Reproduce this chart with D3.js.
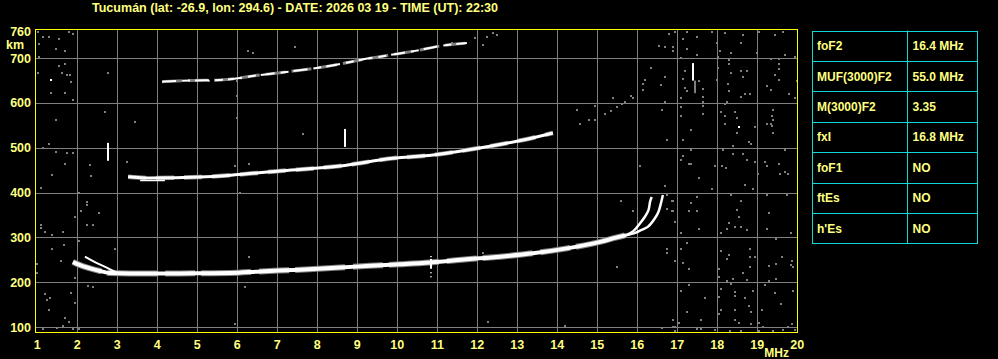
<!DOCTYPE html>
<html><head><meta charset="utf-8">
<script src="https://cdn.jsdelivr.net/npm/d3@7"></script>
<style>
body{margin:0;background:#000;overflow:hidden}
svg{display:block}
text{font-family:"Liberation Sans",Arial,sans-serif;font-weight:bold}
</style></head><body>
<script>
// ---------- DATA ----------
const titleText = "Tucumán (lat: -26.9, lon: 294.6) - DATE: 2026 03 19 - TIME (UT): 22:30";
const freqTicks = d3.range(1, 21);            // MHz
const heightTicks = [100,200,300,400,500,600,700,760]; // km
const heightGrid = [100,200,300,400,500,600,700];

// first-hop F trace (common part)  [MHz, km]
const traceF1o = [[1.89,245],[2.07,238],[2.32,231],[2.57,225],[2.82,220.5],[3.32,219.5],[3.82,219.5],[4.57,219.5],[5.07,220],[5.82,220.5],[6.57,224],[7.57,228],[8.57,233],[9.32,236.5],[10.07,240],[10.82,244],[11.74,251],[12.57,257],[13.39,264.5],[14.24,275.5],[15.07,290],[15.49,300],[15.72,305]];
const branchO = [[15.72,305],[15.9,314],[16.07,331.5],[16.19,346],[16.28,361],[16.32,380],[16.36,390]];
const branchX = [[15.72,305],[15.95,310],[16.07,315],[16.27,324],[16.44,342.6],[16.53,357.4],[16.59,376],[16.64,394.6]];
const lowX = [[2.19,257],[2.44,245],[2.77,231],[2.95,223]];
// second hop
const trace2F = [[3.27,435.5],[3.82,432.6],[5.07,434.8],[5.89,439.3],[7.14,448.9],[8.57,459.4],[9.89,476.6],[10.89,484],[11.74,495],[12.49,506.3],[13.32,520.8],[13.89,533]];
const trace2Flow = [[3.57,427],[4.19,427]];
// third hop
const trace3F = [[4.12,647.5],[4.82,650.2],[5.57,651.3],[6.57,662.5],[7.07,667.6],[8.44,684.8],[9.07,696],[9.82,707.1],[10.57,718.3],[11.07,727.2],[11.74,733.9]];
// vertical echo bars [MHz, km from, km to]
const whiteBars = [[2.78,471,511],[8.69,502,542],[10.84,230,252],[10.84,256,258],[10.84,220,222],[10.84,211,213],[17.4,650,689]];
const grayBars = [[17.45,622,650]];
// isolated white echoes
const whiteDots = [[1.34,651],[18.54,547]];
// scattered noise echoes [MHz, km]
const noiseDots = [
[16.79,755],[16.94,758],[17.24,758],[17.48,747],[17.88,758],[18.19,757],[18.63,752],[19.03,758],[19.44,751],[19.65,758],
[16.69,725],[16.90,725],[16.90,717],[17.13,743],[17.24,721],[17.98,734],[18.08,717],[18.34,712],[18.59,734],[18.98,712],[19.69,708],
[17.09,700],[17.48,708],[18.02,703],[18.29,697],[18.29,688],[19.34,698],[19.54,698],[19.54,688],[19.94,703],
[18.02,678],[18.34,667],[18.59,671],[18.74,672],[19.54,676],[17.19,671],[16.69,658],[17.14,654],[17.54,648],[18.63,658],[19.44,663],[19.54,652],[17.98,652],
[16.59,640],[17.19,633],[17.24,627],[17.64,631],[18.27,642],[19.23,639],[19.34,630],[19.98,648],
[17.64,613],[18.29,626],[18.59,613],[18.69,620],[18.83,620],[19.79,620],[17.09,611],[19.94,611],
[16.69,602],[17.64,602],[18.24,602],[18.19,598],[17.09,591],[17.64,594],[16.63,585],[19.40,585],[18.09,580],[18.44,580],
[17.09,572],[17.64,575],[18.18,572],[18.48,567],[19.36,572],[19.40,563],[18.18,553],[19.23,553],[19.34,553],[19.38,549],[18.94,546],[17.34,540],
[18.48,533],[19.40,533],[16.74,518],[17.14,518],[18.80,513],[18.84,508],[18.39,505],[17.34,496],[18.14,496],[19.69,496],
[17.14,482],[18.40,487],[18.63,487],[17.09,473],[17.30,464],[17.34,464],[17.94,460],[18.13,460],[18.23,455],[18.73,473],[18.94,468],[19.19,468],[19.23,460],[19.54,464],
[19.02,442],[19.69,446],[19.76,442],[19.58,442],[17.54,432],
[16.69,415],[18.90,407],[18.69,417],[17.88,408],[16.74,395],[17.48,391],[18.34,395],[19.23,395],[19.73,395],
[16.90,382],[17.34,377],[18.59,382],[16.74,363],[16.90,359],[17.29,359],[17.48,359],[18.48,361],[19.29,354],[18.54,346],
[16.94,335],[18.29,333],[18.44,324],[18.59,324],[18.74,316],[18.24,319],[17.54,319],[19.23,319],[17.09,310],[18.09,310],[19.84,310],[19.48,296],[17.24,288],
[16.74,274],[16.74,266],[17.09,274],[18.09,270],[18.83,274],[18.29,261],[18.24,252],[18.83,257],[18.94,257],[19.63,257],[16.94,248],[17.14,243],[19.88,248],
[19.29,236],[19.48,241],[19.84,238],[19.90,233],[17.29,229],[18.04,229],[18.83,233],[18.04,211],[18.63,221],[18.24,203],[18.39,207],[18.75,205],[19.29,203],[19.48,208],
[17.29,194],[19.19,194],[18.09,185],[18.34,197],[17.09,181],[18.44,179],[18.44,169],[18.90,181],[19.44,177],[19.90,181],[17.69,164],[18.69,164],[18.04,168],
[19.59,151],[18.79,147],[18.09,138],[18.44,138],[19.13,138],[17.24,134],[18.04,129],[18.84,134],[17.59,116],[18.44,116],[18.54,110],[16.90,116],[17.03,108],[18.84,107],[19.04,110],[19.88,107],
[16.94,101],[19.15,101],[19.76,101],[17.48,95],[17.59,95],[16.94,90],[18.32,90],[18.59,90],[19.04,90],[19.40,92],[19.64,93],[19.94,93],[17.93,93],
[1.02,758],[1.15,747],[1.28,747],[1.78,758],[1.88,754],[1.55,743],[1.05,731],[1.48,720],[1.69,717],[1.05,702],[1.53,683],[1.68,687],[1.61,666],[1.74,662],[1.82,662],[1.84,646],[1.02,668],
[1.34,622],[1.69,622],[1.88,607],[1.48,562],[1.15,500],[1.30,508],[1.48,490],[1.73,488],[1.90,488],[1.69,464],[1.38,439],[1.09,411],[1.94,346],
[1.09,328],[1.09,320],[1.19,313],[1.38,305],[1.64,311],[1.36,274],[1.67,283],[1.59,247],[1.0,241],[1.0,220],
[1.18,173],[1.32,165],[1.84,177],[1.23,160],[1.94,153],[1.30,138],[1.68,121],[1.80,112],[1.64,102],[1.14,95],[1.50,98],[1.88,95],[2.04,95],
[5.94,107],[12.28,112],[14.19,103],[16.63,98],[16.90,101],
[2.32,462],[2.34,438],[2.03,398],[2.24,380],[2.24,372],[2.08,360],[2.54,355],[2.24,328],[2.39,328],[2.03,293],[2.94,274],[6.29,257],
[5.94,459],[6.29,464],[3.23,469],[9.18,467],[6.07,398],[6.19,190],[2.28,192],[2.39,190],[1.94,209],
[16.08,460],[15.59,382],[15.88,360],[16.88,382],[16.88,360],[15.49,235],[12.14,266],
[2.78,666],[2.69,580],[3.44,558],[6.28,717],[6.39,712],[7.44,726],[5.98,616],[5.98,567],[7.64,531],
[11.94,744],[12.24,748],[12.14,729],[12.38,757],[12.48,752],[11.36,734],[5.76,653],[5.3,649],[6.0,650],
[14.49,585],[14.57,552],[14.78,561],[14.94,594],[14.94,563],[15.19,575],[15.33,583],[15.39,611],[15.5,591],[15.63,598],[15.69,602],[15.83,616],[15.89,611],[16.14,630],[16.14,643],[16.19,651],[16.34,677],[16.54,728]
];
const paramNames = ["foF2","MUF(3000)F2","M(3000)F2","fxI","foF1","ftEs","h'Es"];
const paramValues = ["16.4 MHz","55.0 MHz","3.35","16.8 MHz","NO","NO","NO"];

// ---------- DRAW ----------
const W = 998, H = 359;
const svg = d3.select("body").append("svg").attr("width", W).attr("height", H);
svg.append("rect").attr("width", W).attr("height", H).attr("fill", "#000");

const x = d3.scaleLinear().domain([1, 20]).range([37.3, 797.3]);
const y = d3.scaleLinear().domain([100, 760]).range([327, 31.3]);
const px = v => Math.round(v) + 0.5;
const plotL = 36, plotR = 798, plotT = 30, plotB = 333;
const TXT = "#ffff80";

// title
svg.append("text").attr("x", 92).attr("y", 11.5)
  .attr("fill", TXT).attr("font-size", "12px")
  .attr("textLength", 406).attr("lengthAdjust", "spacingAndGlyphs").text(titleText);

// grid
const grid = svg.append("g").attr("stroke", "#808080").attr("stroke-width", 1);
grid.selectAll("line.v").data(freqTicks.filter(f => f > 1 && f < 20)).join("line")
  .attr("x1", d => px(x(d))).attr("x2", d => px(x(d))).attr("y1", plotT).attr("y2", plotB);
grid.selectAll("line.h").data(heightGrid).join("line").attr("class","h")
  .attr("x1", plotL).attr("x2", plotR).attr("y1", d => px(y(d))).attr("y2", d => px(y(d)));

// noise
svg.append("g").selectAll("rect").data(noiseDots).join("rect")
  .attr("x", d => Math.round(x(d[0])) - 1).attr("y", d => Math.round(y(d[1])) - 1)
  .attr("width", 2).attr("height", 2).attr("fill", "#808080");
svg.append("g").selectAll("rect").data(whiteDots).join("rect")
  .attr("x", d => Math.round(x(d[0])) - 1).attr("y", d => Math.round(y(d[1])) - 1)
  .attr("width", 2).attr("height", 2).attr("fill", "#fff");

// traces
const line = d3.line().x(d => x(d[0])).y(d => y(d[1])).curve(d3.curveMonotoneX);
const lineC = d3.line().x(d => x(d[0])).y(d => y(d[1])).curve(d3.curveCatmullRom);
const tr = svg.append("g").attr("fill", "none").attr("stroke-linejoin", "round");
// gray halos
tr.append("path").attr("d", line(traceF1o)).attr("stroke", "#808080").attr("stroke-width", 6).attr("stroke-dasharray", "30,6,50,8");
tr.append("path").attr("d", line(trace2F)).attr("stroke", "#808080").attr("stroke-width", 4.5).attr("stroke-dasharray", "18,10");
// white cores
tr.append("path").attr("d", line(traceF1o)).attr("stroke", "#fff").attr("stroke-width", 4);
tr.append("path").attr("d", lineC(branchO)).attr("stroke", "#fff").attr("stroke-width", 2.5);
tr.append("path").attr("d", lineC(branchX)).attr("stroke", "#fff").attr("stroke-width", 2.5);
tr.append("path").attr("d", line(lowX)).attr("stroke", "#fff").attr("stroke-width", 2);
tr.append("path").attr("d", line(trace2F)).attr("stroke", "#fff").attr("stroke-width", 3);
tr.append("path").attr("d", line(trace2Flow)).attr("stroke", "#fff").attr("stroke-width", 1.5);
tr.append("path").attr("d", line(trace3F)).attr("stroke", "#808080").attr("stroke-width", 3).attr("stroke-dasharray", "20,6");
tr.append("path").attr("d", line(trace3F)).attr("stroke", "#fff").attr("stroke-width", 2).attr("stroke-dasharray", "14,6,8,5");

// vertical bars
svg.append("g").selectAll("rect").data(whiteBars).join("rect")
  .attr("x", d => Math.round(x(d[0])) - 1).attr("y", d => y(d[2]))
  .attr("width", 2).attr("height", d => y(d[1]) - y(d[2])).attr("fill", "#fff");
svg.append("g").selectAll("rect").data(grayBars).join("rect")
  .attr("x", d => Math.round(x(d[0])) - 1).attr("y", d => y(d[2]))
  .attr("width", 2).attr("height", d => y(d[1]) - y(d[2])).attr("fill", "#808080");

// frame
svg.append("rect").attr("x", plotL - 0.5).attr("y", plotT - 0.5)
  .attr("width", plotR - plotL).attr("height", plotB - plotT)
  .attr("fill", "none").attr("stroke", "#ffff00").attr("stroke-width", 1);

// axes labels
const xa = svg.append("g").attr("fill", TXT).attr("font-size", "12.5px").attr("text-anchor", "middle");
xa.selectAll("text").data(freqTicks).join("text")
  .attr("x", d => x(d)).attr("y", 349).text(d => d);
svg.append("text").attr("x", 789).attr("y", 357).attr("text-anchor", "end")
  .attr("fill", TXT).attr("font-size", "12px").text("MHz");
const ya = svg.append("g").attr("fill", TXT).attr("font-size", "12.5px").attr("text-anchor", "end");
ya.selectAll("text").data(heightTicks).join("text")
  .attr("x", 31).attr("y", d => y(d) + 4.5).text(d => d);
svg.append("text").attr("x", 6).attr("y", 49).attr("fill", TXT).attr("font-size", "12.5px").text("km");

// parameter table
const tX0 = 812, tX1 = 907, tX2 = 977, tY0 = 30.5, rowH = 30.4;
const tbl = svg.append("g");
const rows = paramNames.map((n, i) => ({ name: n, value: paramValues[i], i }));
tbl.selectAll("rect").data(rows).join("rect")
  .attr("x", tX0 + 0.5).attr("y", d => Math.round(tY0 + d.i * rowH) + 0.5)
  .attr("width", tX2 - tX0).attr("height", d => Math.round(tY0 + (d.i + 1) * rowH) - Math.round(tY0 + d.i * rowH))
  .attr("fill", "none").attr("stroke", "#10d8d8");
tbl.append("line").attr("x1", tX1 + 0.5).attr("x2", tX1 + 0.5).attr("y1", tY0)
  .attr("y2", Math.round(tY0 + paramNames.length * rowH) + 0.5).attr("stroke", "#10d8d8");
tbl.selectAll("text.n").data(rows).join("text").attr("class", "n")
  .attr("x", tX0 + 5).attr("y", d => tY0 + d.i * rowH + rowH / 2 + 4.5)
  .attr("fill", TXT).attr("font-size", "12px").text(d => d.name);
tbl.selectAll("text.v").data(rows).join("text").attr("class", "v")
  .attr("x", tX1 + 5.5).attr("y", d => tY0 + d.i * rowH + rowH / 2 + 4.5)
  .attr("fill", TXT).attr("font-size", "12px").text(d => d.value);
</script>
</body></html>
